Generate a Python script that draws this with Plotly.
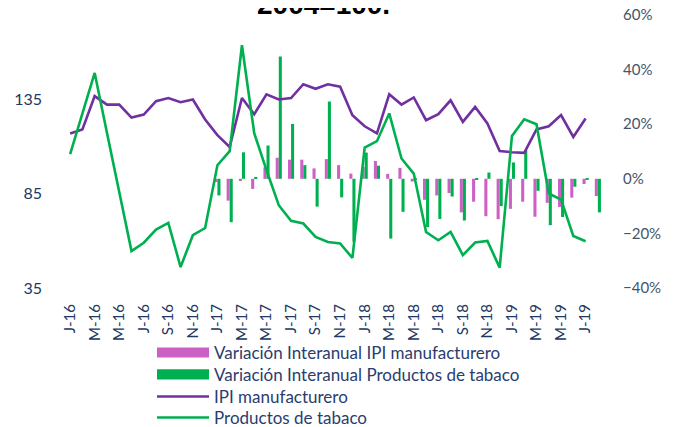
import plotly.graph_objects as go

# Months Jan-2016 .. Aug-2019 (category keys)
months = [f"{y}-{m:02d}" for y in (2016, 2017, 2018, 2019) for m in range(1, 13)][:44]
tick_labels = ["J-16", "M-16", "M-16", "J-16", "S-16", "N-16",
               "J-17", "M-17", "M-17", "J-17", "S-17", "N-17",
               "J-18", "M-18", "M-18", "J-18", "S-18", "N-18",
               "J-19", "M-19", "M-19", "J-19"]
pct_ticks = [-0.4, -0.2, 0.0, 0.2, 0.4, 0.6]
idx_ticks = [35, 85, 135]

# Index lines (2004=100), Jan-2016 .. Jul-2019
ipi_manuf = [117.0, 119.1, 136.8, 132.3, 132.3, 125.4, 127.0, 134.1, 135.8, 133.6, 135.0, 124.4,
             116.1, 109.8, 135.8, 127.2, 137.7, 135.0, 135.8, 143.1, 140.7, 143.1, 141.8, 126.7,
             120.8, 117.0, 137.8, 132.3, 136.1, 124.0, 127.2, 134.6, 123.1, 131.1, 122.3, 107.7,
             107.0, 106.7, 119.1, 120.8, 126.7, 115.1, 124.9]
tabaco = [106.0, 127.6, 149.1, 117.4, 85.5, 54.6, 59.0, 66.0, 69.5, 46.1, 63.0, 66.8,
          100.1, 107.6, 163.8, 117.1, 97.5, 78.9, 70.6, 69.2, 62.1, 59.4, 58.6, 50.9,
          109.5, 112.9, 127.6, 103.7, 95.7, 64.7, 60.3, 64.7, 52.4, 59.1, 59.9, 45.8,
          115.7, 124.5, 121.9, 85.1, 81.9, 62.6, 59.8]

# Year-on-year variation bars (%), Jan-2017 .. Aug-2019
var_ipi = [-1.2, -8.0, -0.8, -3.7, 4.2, 7.7, 7.0, 7.0, 3.8, 7.2, 5.0, 1.9,
           4.3, 6.5, 1.8, 4.0, -1.0, -7.7, -6.1, -5.2, -12.3, -8.4, -13.7, -14.8,
           -11.0, -8.4, -13.9, -8.8, -10.3, -6.9, -1.9, -6.3]
var_tabaco = [-6.1, -15.9, 9.7, 0.3, 12.2, 44.8, 20.1, 5.0, -10.2, 28.3, -6.8, -23.1,
              9.6, 4.8, -21.9, -12.1, -0.3, -17.7, -14.7, -6.5, -15.3, -0.4, 2.3, -10.0,
              6.0, 10.4, -4.4, -17.0, -14.0, -2.9, -0.2, -12.3]

legend_names = ["Variación Interanual IPI manufacturero",
                "Variación Interanual Productos de tabaco",
                "IPI manufacturero",
                "Productos de tabaco"]

bar_months = months[12:12 + len(var_ipi)]
line_months = months[:len(ipi_manuf)]

PINK = "#CC60C4"
GREEN = "#00B050"
PURPLE = "#7030A0"
FONT = "Lato"
TXT = "#2A3D70"

fig = go.Figure()
fig.add_trace(go.Bar(x=bar_months, y=[v / 100 for v in var_ipi], name=legend_names[0],
                     marker=dict(color=PINK, line=dict(width=0)), yaxis="y"))
fig.add_trace(go.Bar(x=bar_months, y=[v / 100 for v in var_tabaco], name=legend_names[1],
                     marker=dict(color=GREEN, line=dict(width=0)), yaxis="y"))
fig.add_trace(go.Scatter(x=line_months, y=ipi_manuf, name=legend_names[2], mode="lines",
                         line=dict(color=PURPLE, width=2.6), yaxis="y2"))
fig.add_trace(go.Scatter(x=line_months, y=tabaco, name=legend_names[3], mode="lines",
                         line=dict(color=GREEN, width=2.6), yaxis="y2"))

# The page has an 8px body margin: work in page pixels and shift.
OFF = 8
W, H = 675 - OFF, 427 - OFF
L, R, T, B = 64 - OFF, 604 - OFF, 15 - OFF, 288 - OFF
def px(x):
    return (x - OFF - L) / (R - L)
def py(y):
    return (B - (y - OFF)) / (B - T)

shapes = []
annotations = []
# manual legend (page pixel positions)
leg_y = [352.5, 374.3, 396.5, 417.5]
shapes.append(dict(type="rect", xref="paper", yref="paper", x0=px(157), x1=px(209),
                   y0=py(357.5), y1=py(347.5), fillcolor=PINK, line=dict(width=0)))
shapes.append(dict(type="rect", xref="paper", yref="paper", x0=px(157), x1=px(209),
                   y0=py(379.5), y1=py(369.3), fillcolor=GREEN, line=dict(width=0)))
shapes.append(dict(type="line", xref="paper", yref="paper", x0=px(157), x1=px(209),
                   y0=py(leg_y[2]), y1=py(leg_y[2]), line=dict(color=PURPLE, width=2.6)))
shapes.append(dict(type="line", xref="paper", yref="paper", x0=px(157), x1=px(209),
                   y0=py(leg_y[3]), y1=py(leg_y[3]), line=dict(color=GREEN, width=2.6)))
for name, yy in zip(legend_names, leg_y):
    annotations.append(dict(text=name, xref="paper", yref="paper", x=px(213), y=py(yy),
                            xanchor="left", yanchor="middle", showarrow=False, borderpad=0,
                            font=dict(family=FONT, size=17, color=TXT)))
# title (only its lower part shows at the top edge, as in the source)
annotations.append(dict(text="<b>2004=100.</b>", xref="paper", yref="paper", x=px(323.5), y=py(21),
                        xanchor="center", yanchor="bottom", showarrow=False, borderpad=0,
                        font=dict(family="Liberation Sans", size=28, color="black")))

fig.update_layout(
    width=W, height=H,
    margin=dict(l=L, r=W - R, t=T, b=H - B, autoexpand=False),
    paper_bgcolor="white", plot_bgcolor="white",
    font=dict(family=FONT, size=15, color=TXT),
    barmode="group", bargap=0.5, bargroupgap=0,
    showlegend=False,
    xaxis=dict(type="category", categoryorder="array", categoryarray=months,
               range=[-0.5, len(months) - 0.5],
               tickmode="array", tickvals=months[0:43:2], ticktext=tick_labels,
               tickangle=-90, showgrid=False, zeroline=False, showline=False, ticks="",
               ticklabelstandoff=12, ticklabeloverflow="allow",
               tickfont=dict(family=FONT, size=15, color="#203864")),
    yaxis=dict(side="right", range=[-0.4001, 0.6001], tickmode="array", tickvals=pct_ticks,
               tickformat=".0%",
               showgrid=False, zeroline=False, showline=False, ticks="",
               ticklabelstandoff=18, ticklabeloverflow="allow",
               tickfont=dict(family=FONT, size=15, color="#44546A")),
    yaxis2=dict(side="left", overlaying="y", range=[34.97, 179.85], tickmode="array", tickvals=idx_ticks,
                showgrid=False, zeroline=False, showline=False, ticks="",
                ticklabelstandoff=21, ticklabeloverflow="allow",
                tickfont=dict(family=FONT, size=16, color="#203864")),
    shapes=shapes,
    annotations=annotations,
)

fig.write_html("out.html")
